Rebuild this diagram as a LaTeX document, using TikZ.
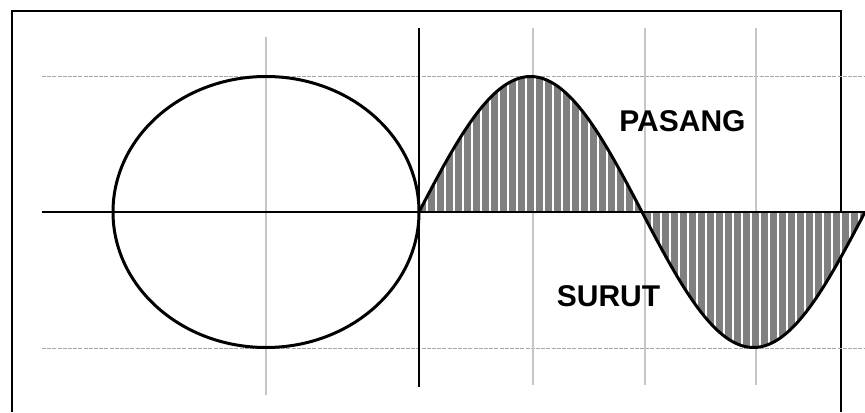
\documentclass[tikz,border=0pt]{standalone}
\usepackage{fontspec}
\setmainfont{Liberation Sans}
\usepackage{tikz}
\usetikzlibrary{calc}

\begin{document}
\begin{tikzpicture}[x=0.5pt,y=0.5pt]
          \tikzstyle{frame}=[draw,line width = .75pt]
          \tikzstyle{hgrid}=[draw,gray!70,line width = .5pt,dash pattern=on 2pt off .6pt]
          \tikzstyle{vgrid}=[draw,gray!45,line width = .7pt]
          \tikzstyle{axis}=[draw,line width = .7pt]
          \tikzstyle{wave}=[draw,line width = 1.5pt]
          \tikzstyle{stripe}=[draw,white,line width = 1pt]
          \tikzstyle{tide}=[font=\fontsize{15}{18}\selectfont\bfseries]
          \useasboundingbox (0,0) rectangle (865,412);
          \draw[frame] (12,0) -- (12,401) -- (841,401) -- (841,0);
          % grid
          \draw[hgrid] (42,335) -- (865,335);
          \draw[hgrid] (42,64) -- (865,64);
          \draw[vgrid] (266,375) -- (266,17);
          \foreach \x in {533,645,756}{
            \draw[vgrid] (\x,384) -- (\x,27);
            }
          % hatched area under the tide curve
          \begin{scope}
            \clip (419,200) -- plot[domain=419:865,samples=120] (\x,{200+135.5*sin((\x-419)*0.80717)}) -- cycle;
            \fill[gray] (419,60) rectangle (865,340);
            \foreach \x in {418,427,...,865}{
              \draw[stripe] (\x,60) -- (\x,340);
              }
          \end{scope}
          \draw[axis] (42,200) -- (865,200);
          \draw[axis] (419,384) -- (419,25);
          \draw[wave] (266,200) ellipse [x radius=153, y radius=135.5];
          \draw[wave] plot[domain=419:865,samples=120,smooth] (\x,{200+135.5*sin((\x-419)*0.80717)});
          \node[tide] (pasang) at (682.5,291) {PASANG};
          \node[tide] (surut) at (608.5,116) {SURUT};
        \end{tikzpicture}
\end{document}
